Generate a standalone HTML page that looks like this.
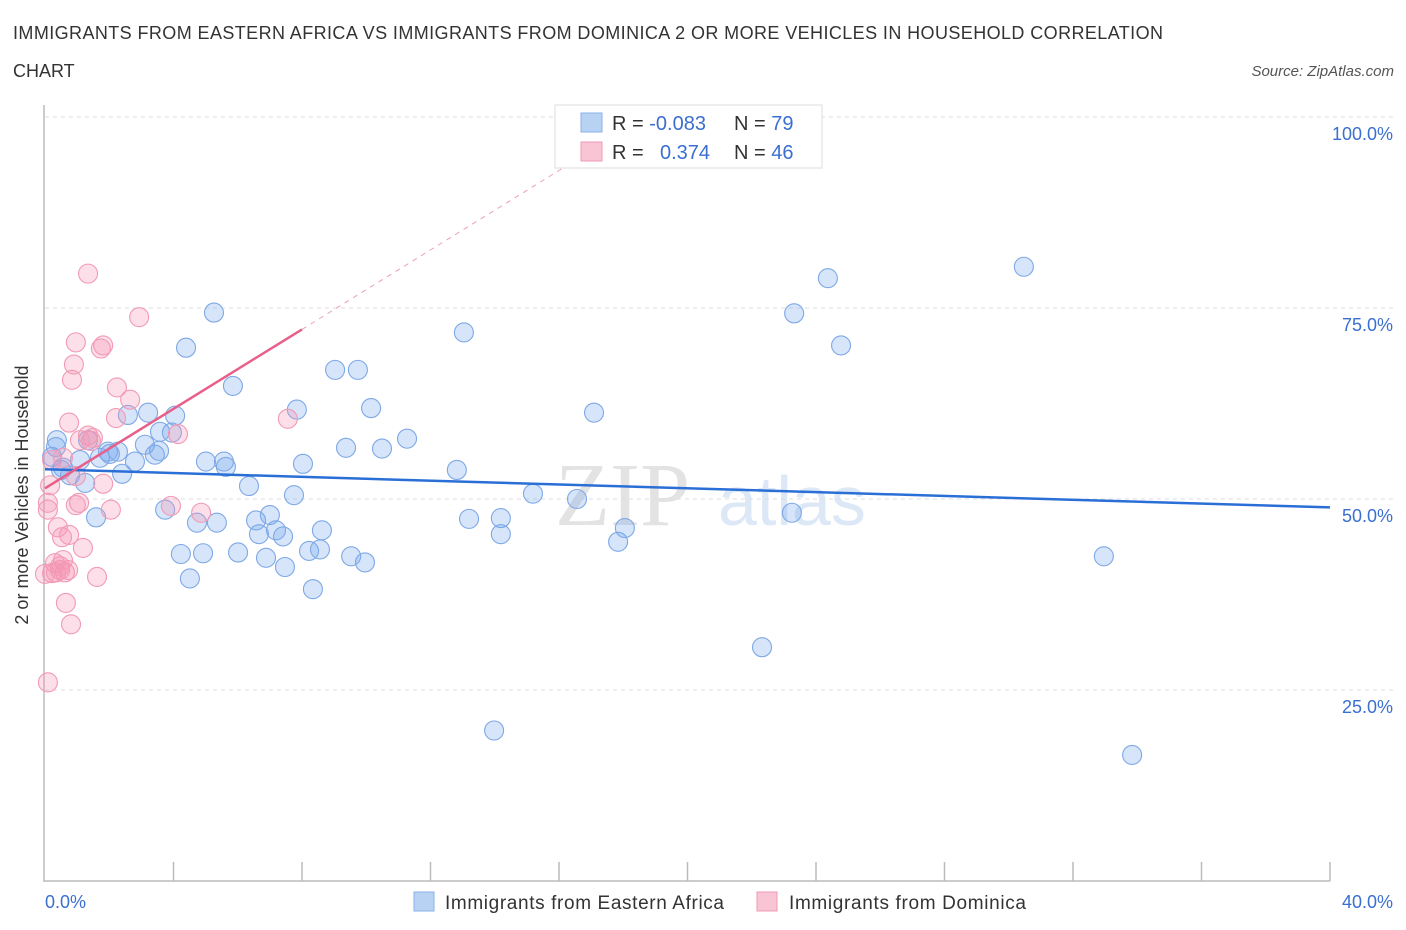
<!DOCTYPE html>
<html><head><meta charset="utf-8"><style>
body{margin:0;background:#fff;font-family:"Liberation Sans",sans-serif;}
svg{display:block}
</style></head><body>
<svg id="chart" width="1406" height="930">
<text x="13" y="39" font-size="18" fill="#333" textLength="1150">IMMIGRANTS FROM EASTERN AFRICA VS IMMIGRANTS FROM DOMINICA 2 OR MORE VEHICLES IN HOUSEHOLD CORRELATION</text>
<text x="13" y="77" font-size="18" fill="#333">CHART</text>
<text x="1394" y="76" font-size="15" fill="#555" font-style="italic" text-anchor="end">Source: ZipAtlas.com</text>
<text x="555" y="525" font-size="90" fill="#e3e3e3" font-family="Liberation Serif,serif">ZIP</text>
<text x="718" y="525" font-size="70" fill="#dce8f6">atlas</text>
<g id="grid"></g>
<line x1="44" y1="105" x2="44" y2="882" stroke="#bbb" stroke-width="1.5"/>
<line x1="44" y1="881" x2="1330" y2="881" stroke="#bbb" stroke-width="1.5"/>
<g id="ticks"></g>
<text x="28" y="495" font-size="18" fill="#333" text-anchor="middle" transform="rotate(-90 28 495)">2 or more Vehicles in Household</text>
<text x="45" y="908" font-size="18" fill="#3a6fd0">0.0%</text>
<text x="1393" y="908" font-size="18" fill="#3a6fd0" text-anchor="end">40.0%</text>
<g id="pts"></g>
<g id="trends"></g>
<g>
<rect x="555" y="105" width="267" height="63" fill="#fff" stroke="#ddd"/>
<rect x="581" y="113" width="21" height="19" fill="#b8d2f4" stroke="#8ab0e8"/>
<rect x="581" y="142" width="21" height="19" fill="#f9c4d4" stroke="#f09ab5"/>
<text x="612" y="130" font-size="20" fill="#333">R = <tspan fill="#3a6fd0">-0.083</tspan><tspan x="734">N = </tspan><tspan fill="#3a6fd0">79</tspan></text>
<text x="612" y="159" font-size="20" fill="#333">R = <tspan x="660" fill="#3a6fd0">0.374</tspan><tspan x="734">N = </tspan><tspan fill="#3a6fd0">46</tspan></text>
</g>
<g>
<rect x="414" y="892" width="20" height="19" fill="#b8d2f4" stroke="#8ab0e8"/>
<text x="445" y="909" font-size="19" fill="#333" textLength="279">Immigrants from Eastern Africa</text></g>
<g>
<rect x="757" y="892" width="20" height="19" fill="#f9c4d4" stroke="#f09ab5"/>
<text x="789" y="909" font-size="19" fill="#333" textLength="237">Immigrants from Dominica</text></g>
</svg>
<script>
const blueX=[0.37,0.22,0.56,0.78,1.09,1.34,1.71,1.96,2.27,2.40,2.58,3.11,3.21,3.42,3.58,3.74,4.05,3.95,4.23,4.39,4.51,4.73,4.92,5.01,5.26,5.35,5.57,5.63,5.85,6.01,6.35,6.57,6.66,6.88,7.00,7.19,7.41,7.47,7.75,7.84,8.03,8.22,8.34,8.56,8.62,9.03,9.37,9.53,9.74,9.96,10.15,10.49,11.27,12.82,13.04,13.20,14.19,14.19,15.19,16.56,17.09,17.84,18.05,22.32,23.25,23.32,24.37,24.78,30.47,32.96,33.84,13.98,1.59,1.25,2.80,2.02,0.34,0.50,3.55];
const blueY=[57.7,55.5,54.1,53.1,55.1,57.7,55.4,56.2,56.2,53.3,61.0,57.1,61.3,55.8,58.8,48.6,60.9,58.7,42.8,69.8,39.6,46.9,42.9,54.9,74.4,46.9,54.9,54.2,64.8,43.0,51.7,47.2,45.4,42.3,47.9,45.9,45.1,41.1,50.5,61.7,54.6,43.2,38.2,43.4,45.9,66.9,56.7,42.5,66.9,41.7,61.9,56.6,57.9,53.8,71.8,47.4,47.5,45.4,50.7,50.0,61.3,44.4,46.2,30.6,48.2,74.3,78.9,70.1,80.4,42.5,16.5,19.7,47.6,52.1,54.9,55.9,56.8,53.8,56.3];
const pinkX=[1.34,2.93,0.96,1.81,1.74,0.90,0.84,2.24,2.65,2.21,0.75,1.34,1.49,1.43,4.14,7.56,4.86,3.92,2.05,0.96,1.06,0.09,0.09,0.16,0.22,0.40,0.75,0.53,0.56,0.31,0.47,0.62,0.72,0.22,1.62,0.65,0.81,0.09,0.56,1.81,0.96,1.18,0.34,0.0,0.47,1.09];
const pinkY=[79.5,73.8,70.5,70.1,69.7,67.6,65.6,64.6,63.0,60.6,60.0,58.3,58.0,57.6,58.5,60.5,48.2,49.1,48.6,49.2,49.5,48.6,49.5,51.8,55.1,46.3,45.3,45.0,42.0,41.6,40.7,40.4,40.7,40.3,39.8,36.4,33.6,26.0,55.4,52.0,53.0,43.6,40.4,40.2,41.2,57.7];
const yTicks=[25,50,75,100];
const yTickLabels=["25.0%","50.0%","75.0%","100.0%"];
const blueTrend=[53.9,48.9];
const pinkTrend=[51.4,72.2];
const NS="http://www.w3.org/2000/svg";
const sx=v=>45+v/40*1285, sy=v=>881-v*7.64;
function mk(t,a,p){const e=document.createElementNS(NS,t);for(const k in a)e.setAttribute(k,a[k]);p.appendChild(e);return e;}
const grid=document.getElementById('grid');
yTicks.forEach((t,i)=>{
 const l=mk('line',{x1:45,x2:1393,y1:sy(t),y2:sy(t),stroke:'#ddd','stroke-dasharray':'4,4'},grid);
 
 
 const tx=mk('text',{x:1393,y:sy(t)+23,'font-size':18,fill:'#3a6fd0','text-anchor':'end'},grid);
 tx.textContent=yTickLabels[i];
 
 
});
const tk=document.getElementById('ticks');
for(let v=4;v<=40;v+=4){
 const l=mk('line',{x1:sx(v),x2:sx(v),y1:862,y2:881,stroke:'#bbb','stroke-width':1.5},tk);
 
 
}
const pts=document.getElementById('pts');
function draw(X,Y,fill,stroke,name){
 X.forEach((x,i)=>{
  const c=mk('circle',{cx:sx(x),cy:sy(Y[i]),r:9.5,fill:fill,stroke:stroke,'stroke-width':1.1},pts);
  
  
 });
}
draw(blueX,blueY,'rgba(120,168,238,0.3)','#7ea8e6','eastern-africa-point');
draw(pinkX,pinkY,'rgba(245,150,178,0.3)','#f29ab6','dominica-point');
const tr=document.getElementById('trends');
const bl=mk('line',{x1:sx(0),y1:sy(blueTrend[0]),x2:sx(40),y2:sy(blueTrend[1]),stroke:'#2a6fd6','stroke-width':2.5},tr);


const slope=(pinkTrend[1]-pinkTrend[0])/8;
const pl=mk('line',{x1:sx(0),y1:sy(pinkTrend[0]),x2:sx(8),y2:sy(pinkTrend[1]),stroke:'#e8608a','stroke-width':2.5},tr);


const pd=mk('line',{x1:sx(8),y1:sy(pinkTrend[1]),x2:sx(16.5),y2:sy(pinkTrend[0]+slope*16.5),stroke:'#eaa0b8','stroke-width':1,'stroke-dasharray':'5,5'},tr);


</script>
</body></html>
